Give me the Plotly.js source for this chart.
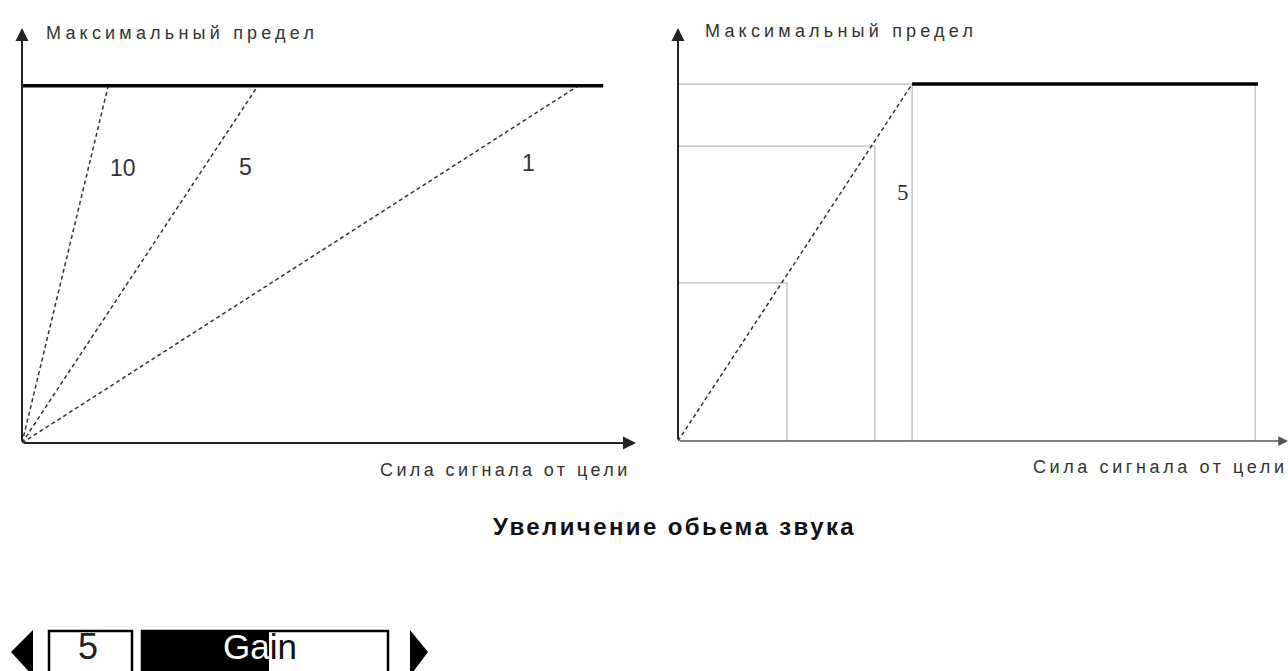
<!DOCTYPE html>
<html><head><meta charset="utf-8">
<script src="https://cdn.plot.ly/plotly-3.0.1.min.js"></script>
<style>html,body{margin:0;padding:0;background:#fff}#chart{width:1288px;height:671px}</style>
</head><body><div id="chart"></div>
<script>
// ---- data ----
const yAxisLabel = 'Максимальный предел';
const xAxisLabel = 'Сила сигнала от цели';
const titleText = 'Увеличение обьема звука';
const maxLimit = 10;                       // level of the "maximum limit"
const leftGains = ['10', '5', '1'];        // gain labels, left chart
const leftSaturation = [1.55, 4.24, 10.0]; // signal where each gain line reaches the limit
const leftLimitEnd = 10.45;
const leftLabelX = [1.55, 4.01, 9.1];
const leftLabelY = [7.69, 7.73, 7.84];
const rightGain = '5';
const rightSaturation = 4.21;
const rightLimitEnd = 10.43;
const guideLevels = [10, 8.26, 4.43];      // horizontal guide levels, right chart
const guideSignals = [4.21, 3.54, 1.96];   // matching signal values
const rightEdgeSignal = 10.38;
const gainValue = 5;
const gainScaleMax = 9.7;
const gainName = 'Gain';

const W = 1288, H = 671;
const px = v => v / W, py = v => 1 - v / H;
const FONT = 'Liberation Sans, Arial, sans-serif';

const traces = [];
leftGains.forEach((g, i) => {
  traces.push({x: [0, leftSaturation[i]], y: [0, maxLimit], xaxis: 'x', yaxis: 'y', mode: 'lines',
    line: {color: '#333', width: 1.5, dash: '4px,3px'}, hoverinfo: 'skip'});
});
traces.push({x: [0, leftLimitEnd], y: [maxLimit, maxLimit], xaxis: 'x', yaxis: 'y', mode: 'lines',
  line: {color: '#000', width: 3.5}, hoverinfo: 'skip'});
guideLevels.forEach((lv, i) => {
  traces.push({x: [0, guideSignals[i], guideSignals[i]], y: [lv, lv, 0], xaxis: 'x2', yaxis: 'y2', mode: 'lines',
    line: {color: '#b8b8b8', width: 1.2}, hoverinfo: 'skip'});
});
traces.push({x: [rightEdgeSignal, rightEdgeSignal], y: [maxLimit, 0], xaxis: 'x2', yaxis: 'y2', mode: 'lines',
  line: {color: '#b8b8b8', width: 1.2}, hoverinfo: 'skip'});
traces.push({x: [0, rightSaturation], y: [0, maxLimit], xaxis: 'x2', yaxis: 'y2', mode: 'lines',
  line: {color: '#333', width: 1.5, dash: '4px,3px'}, hoverinfo: 'skip'});
traces.push({x: [rightSaturation, rightLimitEnd], y: [maxLimit, maxLimit], xaxis: 'x2', yaxis: 'y2', mode: 'lines',
  line: {color: '#000', width: 3.5}, hoverinfo: 'skip'});
traces.push({type: 'bar', orientation: 'h', x: [gainValue], y: [gainName], xaxis: 'x3', yaxis: 'y3',
  marker: {color: '#000', line: {width: 0}}, width: 1, hoverinfo: 'skip'});

const hidden = {showgrid: false, zeroline: false, showticklabels: false, ticks: '', showline: false, fixedrange: true};

const ann = [];
const arrow = (xr, yr, x, y, color, w) => ({xref: xr, yref: yr, axref: xr, ayref: yr, x: x[1], y: y[1], ax: x[0], ay: y[0],
  text: '', showarrow: true, arrowhead: 2, arrowsize: 1.3, arrowwidth: w, arrowcolor: color, standoff: 0});
ann.push(arrow('x', 'y', [0, 0], [0, 11.62], '#222', 2));
ann.push(arrow('x', 'y', [0, 11.04], [0, 0], '#222', 2));
ann.push(arrow('x2', 'y2', [0, 0], [0, 11.57], '#222', 2));
ann.push(arrow('x2', 'y2', [0, 10.97], [0, 0], '#555', 1.5));

const txt = (text, x, y, size, opts, family, color) => Object.assign({text, x, y, xref: 'paper', yref: 'paper', showarrow: false,
  font: {family: family || FONT, size, color: color || '#333'}}, opts || {});
const spaced = (s, sp) => '<span style="letter-spacing:' + sp + 'px">' + s + '</span>';
ann.push(txt(spaced(yAxisLabel, 4.2), px(44), py(33), 18, {xanchor: 'left', yanchor: 'middle'}));
ann.push(txt(spaced(yAxisLabel, 4.2), px(703), py(31), 18, {xanchor: 'left', yanchor: 'middle'}));
ann.push(txt(spaced(xAxisLabel, 3.4), px(633), py(470), 18, {xanchor: 'right', yanchor: 'middle'}));
ann.push(txt(spaced(xAxisLabel, 3.6), px(1290), py(467), 18, {xanchor: 'right', yanchor: 'middle'}));
ann.push(txt('<b>' + spaced(titleText, 2.4) + '</b>', px(675), py(526), 24, {xanchor: 'center', yanchor: 'middle'}, FONT, '#111'));
leftGains.forEach((g, i) => {
  ann.push({text: g, x: leftLabelX[i], y: leftLabelY[i], xref: 'x', yref: 'y', showarrow: false,
    xanchor: i === 0 ? 'left' : 'center', yanchor: 'middle', font: {family: FONT, size: 23, color: '#333'}});
});
ann.push({text: rightGain, x: 4.05, y: 6.97, xref: 'x2', yref: 'y2', showarrow: false,
  font: {family: 'Liberation Serif, serif', size: 23, color: '#333'}});
// widget texts
ann.push(txt(String(gainValue), px(88), py(646), 36, {xanchor: 'center', yanchor: 'middle'}, FONT, '#222'));
ann.push(txt('<span style="color:#fff">Ga</span><span style="color:#111">in</span>', px(221), py(646), 35,
  {xanchor: 'left', yanchor: 'middle'}, FONT, '#111'));

const shapes = [
  {type: 'rect', xref: 'paper', yref: 'paper', x0: px(49), x1: px(132), y0: py(631), y1: py(690), line: {color: '#000', width: 2.5}},
  {type: 'rect', xref: 'paper', yref: 'paper', x0: px(142), x1: px(388), y0: py(631), y1: py(690), line: {color: '#000', width: 2.5}},
  {type: 'path', xref: 'paper', yref: 'paper', path: `M ${px(33)} ${py(630)} L ${px(11)} ${py(652)} L ${px(33)} ${py(676)} Z`, fillcolor: '#000', line: {width: 0}},
  {type: 'path', xref: 'paper', yref: 'paper', path: `M ${px(410)} ${py(630)} L ${px(428)} ${py(652)} L ${px(410)} ${py(676)} Z`, fillcolor: '#000', line: {width: 0}}
];

const layout = {
  width: W, height: H, margin: {l: 0, r: 0, t: 0, b: 0}, showlegend: false,
  paper_bgcolor: '#fff', plot_bgcolor: 'rgba(0,0,0,0)', bargap: 0,
  xaxis: Object.assign({}, hidden, {domain: [px(22), px(636)], range: [0, 11.04]}),
  yaxis: Object.assign({}, hidden, {domain: [py(443), py(28)], range: [0, 11.62]}),
  xaxis2: Object.assign({}, hidden, {domain: [px(678), 1], range: [0, 10.97], anchor: 'y2'}),
  yaxis2: Object.assign({}, hidden, {domain: [py(441), py(28)], range: [0, 11.57], anchor: 'x2'}),
  xaxis3: Object.assign({}, hidden, {domain: [px(142), px(388)], range: [0, gainScaleMax], anchor: 'y3'}),
  yaxis3: Object.assign({}, hidden, {domain: [0, py(631)], anchor: 'x3'}),
  annotations: ann, shapes: shapes
};
Plotly.newPlot('chart', traces, layout, {staticPlot: true, displayModeBar: false});
</script></body></html>
